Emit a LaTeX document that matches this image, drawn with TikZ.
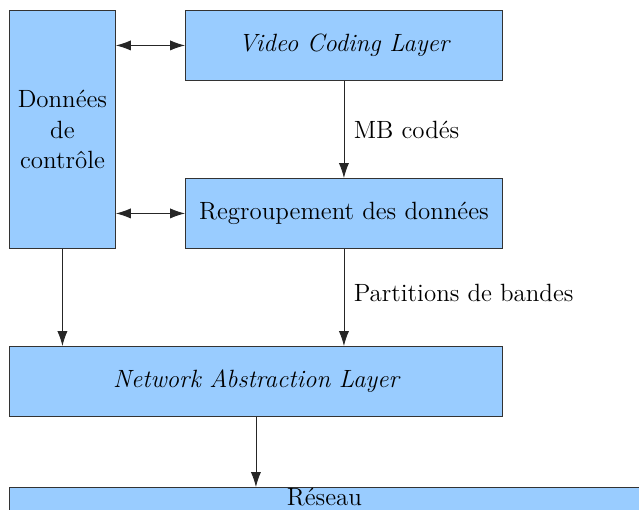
\documentclass[tikz,border=0pt]{standalone}
\usepackage{fontspec}
\usetikzlibrary{arrows.meta}
\definecolor{boxblue}{HTML}{99CCFF}
\begin{document}
\begin{tikzpicture}[x=.02cm,y=-.02cm,
  every node/.style={font=\fontsize{14.2}{17.5}\selectfont,text=black},
  bloc/.style={draw=black!80,fill=boxblue,line width=.5pt,inner sep=0pt,anchor=north west},
  fl/.style={-{Latex[length=8.5pt,width=5.8pt]},black!85,line width=.5pt},
  dfl/.style={{Latex[length=8.5pt,width=5.8pt]}-{Latex[length=8.5pt,width=5.8pt]},black!85,line width=.5pt}]
  \useasboundingbox (0,0) rectangle (639,510);
  \node[bloc,minimum width=106*.02cm,minimum height=238*.02cm,align=center] (ctrl) at (9,10) {Données\\de\\contrôle};
  \node[bloc,minimum width=317*.02cm,minimum height=70*.02cm] (vcl) at (185,10) {\itshape Video Coding Layer};
  \node[bloc,minimum width=317*.02cm,minimum height=70*.02cm] (regroup) at (185,178) {Regroupement des données};
  \node[bloc,minimum width=630*.02cm,inner ysep=1pt,text height=9pt,text depth=15pt] (reseau) at (9,487) {Réseau};
  \node[bloc,minimum width=493*.02cm,minimum height=70*.02cm] (nal) at (9,346) {\itshape Network Abstraction Layer};
  % liaisons
  \draw[dfl] (vcl.west -| ctrl.east) -- (vcl.west);
  \draw[dfl] (regroup.west -| ctrl.east) -- (regroup.west);
  \draw[fl] (vcl.south) -- node[right=2pt] {MB codés} (regroup.north);
  \draw[fl] (regroup.south) -- node[right=2pt,yshift=2.5pt] {Partitions de bandes} (regroup.south |- nal.north);
  \draw[fl] (ctrl.south) -- (ctrl.south |- nal.north);
  \draw[fl] (nal.south) -- (nal.south |- reseau.north);
\end{tikzpicture}
\end{document}
